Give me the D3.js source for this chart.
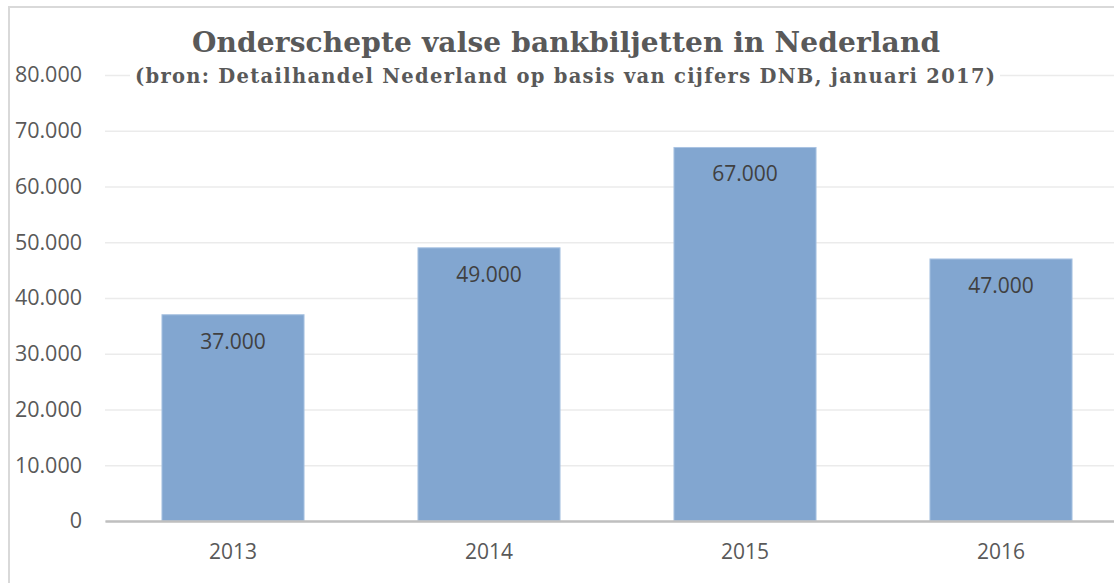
<!DOCTYPE html>
<html>
<head>
<meta charset="utf-8">
<script src="https://cdn.jsdelivr.net/npm/d3@7"></script>
<style>
  body { margin: 0; background: #fff; }
  svg { display: block; }
</style>
</head>
<body>
<svg id="chart" width="1114" height="583"></svg>
<script>
// data
const years = ['2013', '2014', '2015', '2016'];
const counts = [37000, 49000, 67000, 47000];
const yTicks = [0, 10000, 20000, 30000, 40000, 50000, 60000, 70000, 80000];

const title = 'Onderschepte valse bankbiljetten in Nederland';
const subtitle = '(bron: Detailhandel Nederland op basis van cijfers DNB, januari 2017)';

const svg = d3.select('#chart');
const margin = {left: 105, top: 75, bottom: 62};
const width = 1114, height = 583;
const plotRight = 1129;   // plot runs past the visible edge
const innerHeight = 446;

const fmt = v => d3.format(',')(v).replace(/,/g, '.');
const labelFont = '"Open Sans", "Noto Sans", sans-serif';
const titleFont = '"DejaVu Serif", "Liberation Serif", serif';

// chart frame (right and bottom are cut off)
svg.append('rect')
  .attr('x', 9).attr('y', 7)
  .attr('width', 1200).attr('height', 700)
  .attr('fill', 'none')
  .attr('stroke', '#d9d9d9')
  .attr('stroke-width', 2);

const xScale = d3.scaleBand()
  .domain(years)
  .range([margin.left, plotRight])
  .paddingInner(0.445)
  .paddingOuter(0.2225);

const yScale = d3.scaleLinear()
  .domain([0, 80000])
  .range([margin.top + innerHeight, margin.top]);

const g = svg.append('g').attr('class', 'container');

// gridlines + y labels
const yAxis = d3.axisLeft(yScale)
  .tickValues(yTicks)
  .tickSize(-(plotRight - margin.left))
  .tickPadding(23)
  .tickFormat(fmt);

const yAxisG = g.append('g')
  .attr('class', 'yAxis')
  .attr('transform', `translate(${margin.left},0)`)
  .call(yAxis);
yAxisG.select('.domain').remove();
yAxisG.selectAll('line')
  .attr('stroke', '#ebebeb')
  .attr('stroke-width', 1.5);
yAxisG.selectAll('text')
  .attr('fill', '#595959')
  .style('font-family', labelFont)
  .style('font-size', '21.5px');

// bars
g.selectAll('.bar').data(years).enter().append('rect')
  .attr('class', 'bar')
  .attr('x', d => xScale(d))
  .attr('width', xScale.bandwidth())
  .attr('y', (d, i) => yScale(counts[i]))
  .attr('height', (d, i) => yScale(0) - yScale(counts[i]))
  .attr('fill', '#82a6d0')
  .attr('stroke', '#a9c3e2')
  .attr('stroke-width', 1);

// value labels inside bars
g.selectAll('.val').data(years).enter().append('text')
  .attr('class', 'val')
  .attr('x', d => xScale(d) + xScale.bandwidth() / 2)
  .attr('y', (d, i) => yScale(counts[i]) + 34)
  .attr('text-anchor', 'middle')
  .attr('fill', '#404040')
  .style('font-family', labelFont)
  .style('font-size', '21px')
  .text((d, i) => fmt(counts[i]));

// x axis
const xAxis = d3.axisBottom(xScale).tickSize(0).tickPadding(23);
const xAxisG = g.append('g')
  .attr('class', 'xAxis')
  .attr('transform', `translate(0,${yScale(0)})`)
  .call(xAxis);
xAxisG.select('.domain')
  .attr('stroke', '#bfbfbf')
  .attr('stroke-width', 2.5);
xAxisG.selectAll('text')
  .attr('fill', '#595959')
  .style('font-family', labelFont)
  .style('font-size', '21px');

// titles
const titleG = svg.append('g').attr('class', 'title');
titleG.append('rect')
  .attr('x', 130).attr('y', 62)
  .attr('width', 870).attr('height', 28)
  .attr('fill', '#fff');
titleG.append('text')
  .attr('x', 566).attr('y', 52)
  .attr('text-anchor', 'middle')
  .attr('fill', '#595959')
  .attr('textLength', 748)
  .attr('lengthAdjust', 'spacing')
  .style('font-family', titleFont)
  .style('font-weight', 'bold')
  .style('font-size', '28px')
  .text(title);
titleG.append('text')
  .attr('x', 565).attr('y', 83)
  .attr('text-anchor', 'middle')
  .attr('fill', '#595959')
  .attr('textLength', 860)
  .attr('lengthAdjust', 'spacing')
  .style('font-family', titleFont)
  .style('font-weight', 'bold')
  .style('font-size', '19.5px')
  .text(subtitle);
</script>
</body>
</html>
